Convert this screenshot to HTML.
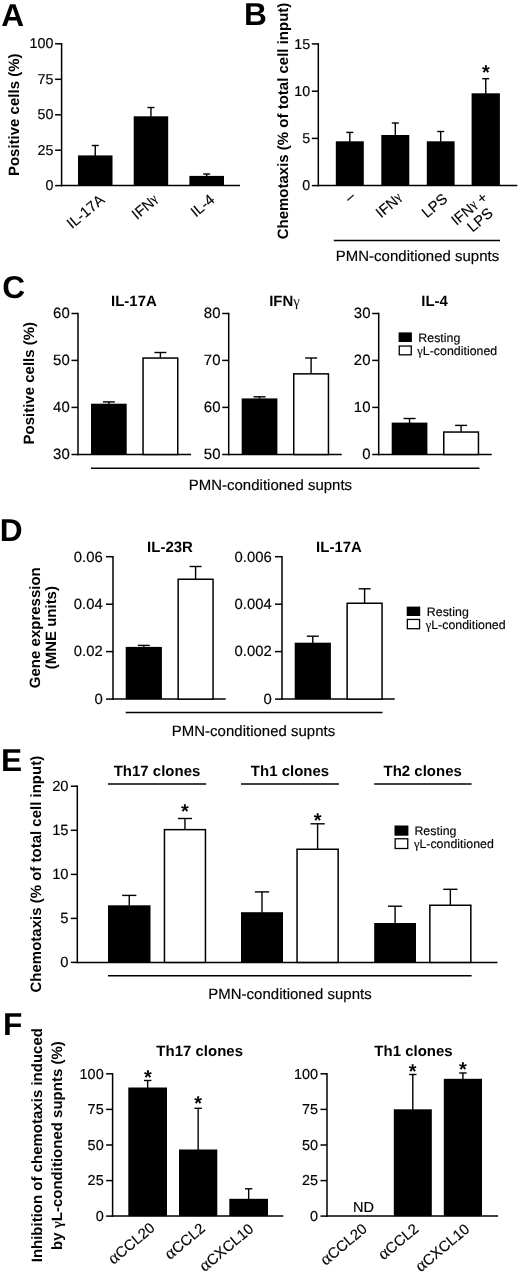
<!DOCTYPE html>
<html><head><meta charset="utf-8"><title>Figure</title>
<style>
html,body{margin:0;padding:0;background:#fff;}
svg{display:block;will-change:transform;}
svg text{text-rendering:geometricPrecision;font-family:"Liberation Sans",Arial,Helvetica,sans-serif;fill:#000;}
</style></head><body>
<svg width="520" height="1275" viewBox="0 0 520 1275">
<rect x="0" y="0" width="520" height="1275" fill="#fff"/>
<text transform="translate(1.20 25.90) scale(0.1)" font-size="318" text-anchor="start" font-weight="bold">A</text>
<text transform="translate(243.90 24.70) scale(0.1)" font-size="318" text-anchor="start" font-weight="bold">B</text>
<text transform="translate(2.30 298.20) scale(0.1)" font-size="318" text-anchor="start" font-weight="bold">C</text>
<text transform="translate(-0.20 541.00) scale(0.1)" font-size="318" text-anchor="start" font-weight="bold">D</text>
<text transform="translate(0.90 771.10) scale(0.1)" font-size="318" text-anchor="start" font-weight="bold">E</text>
<text transform="translate(2.90 1034.90) scale(0.1)" font-size="318" text-anchor="start" font-weight="bold">F</text>
<line x1="61.60" y1="43.05" x2="61.60" y2="186.35" stroke="#000" stroke-width="1.5"/>
<line x1="60.85" y1="185.60" x2="240.00" y2="185.60" stroke="#000" stroke-width="1.5"/>
<line x1="55.10" y1="43.80" x2="61.60" y2="43.80" stroke="#000" stroke-width="1.5"/>
<text transform="translate(53.40 48.45) scale(0.1)" font-size="143" text-anchor="end" stroke="#000" stroke-width="1.6">100</text>
<line x1="55.10" y1="79.30" x2="61.60" y2="79.30" stroke="#000" stroke-width="1.5"/>
<text transform="translate(53.40 83.95) scale(0.1)" font-size="143" text-anchor="end" stroke="#000" stroke-width="1.6">75</text>
<line x1="55.10" y1="114.80" x2="61.60" y2="114.80" stroke="#000" stroke-width="1.5"/>
<text transform="translate(53.40 119.45) scale(0.1)" font-size="143" text-anchor="end" stroke="#000" stroke-width="1.6">50</text>
<line x1="55.10" y1="150.20" x2="61.60" y2="150.20" stroke="#000" stroke-width="1.5"/>
<text transform="translate(53.40 154.85) scale(0.1)" font-size="143" text-anchor="end" stroke="#000" stroke-width="1.6">25</text>
<line x1="55.10" y1="185.60" x2="61.60" y2="185.60" stroke="#000" stroke-width="1.5"/>
<text transform="translate(53.40 190.25) scale(0.1)" font-size="143" text-anchor="end" stroke="#000" stroke-width="1.6">0</text>
<rect x="78.00" y="155.40" width="34.50" height="30.20" fill="#000"/>
<line x1="95.25" y1="145.50" x2="95.25" y2="155.90" stroke="#000" stroke-width="1.4"/>
<line x1="91.75" y1="145.50" x2="98.75" y2="145.50" stroke="#000" stroke-width="1.4"/>
<rect x="133.70" y="116.30" width="34.50" height="69.30" fill="#000"/>
<line x1="150.95" y1="107.50" x2="150.95" y2="116.80" stroke="#000" stroke-width="1.4"/>
<line x1="147.45" y1="107.50" x2="154.45" y2="107.50" stroke="#000" stroke-width="1.4"/>
<rect x="189.40" y="175.90" width="34.60" height="9.70" fill="#000"/>
<line x1="206.70" y1="174.00" x2="206.70" y2="176.40" stroke="#000" stroke-width="1.4"/>
<line x1="203.20" y1="174.00" x2="210.20" y2="174.00" stroke="#000" stroke-width="1.4"/>
<text transform="translate(18.80 114.80) rotate(-90) scale(0.1)" font-size="150" text-anchor="middle" font-weight="bold">Positive cells (%)</text>
<text transform="translate(105.50 201.30) rotate(-40) scale(0.1)" font-size="148" text-anchor="end" stroke="#000" stroke-width="1.6">IL-17A</text>
<text transform="translate(159.50 201.30) rotate(-40) scale(0.1)" font-size="148" text-anchor="end" stroke="#000" stroke-width="1.6">IFN<tspan dy="-22" font-size="85%" font-family="'Liberation Serif','DejaVu Serif',serif">γ</tspan></text>
<text transform="translate(215.50 201.30) rotate(-40) scale(0.1)" font-size="148" text-anchor="end" stroke="#000" stroke-width="1.6">IL-4</text>
<line x1="318.30" y1="43.15" x2="318.30" y2="186.35" stroke="#000" stroke-width="1.5"/>
<line x1="317.55" y1="185.60" x2="517.30" y2="185.60" stroke="#000" stroke-width="1.5"/>
<line x1="311.80" y1="43.90" x2="318.30" y2="43.90" stroke="#000" stroke-width="1.5"/>
<text transform="translate(310.10 48.55) scale(0.1)" font-size="143" text-anchor="end" stroke="#000" stroke-width="1.6">15</text>
<line x1="311.80" y1="91.20" x2="318.30" y2="91.20" stroke="#000" stroke-width="1.5"/>
<text transform="translate(310.10 95.85) scale(0.1)" font-size="143" text-anchor="end" stroke="#000" stroke-width="1.6">10</text>
<line x1="311.80" y1="138.40" x2="318.30" y2="138.40" stroke="#000" stroke-width="1.5"/>
<text transform="translate(310.10 143.05) scale(0.1)" font-size="143" text-anchor="end" stroke="#000" stroke-width="1.6">5</text>
<line x1="311.80" y1="185.60" x2="318.30" y2="185.60" stroke="#000" stroke-width="1.5"/>
<text transform="translate(310.10 190.25) scale(0.1)" font-size="143" text-anchor="end" stroke="#000" stroke-width="1.6">0</text>
<rect x="335.80" y="141.30" width="28.00" height="44.30" fill="#000"/>
<line x1="349.80" y1="132.40" x2="349.80" y2="141.80" stroke="#000" stroke-width="1.4"/>
<line x1="346.30" y1="132.40" x2="353.30" y2="132.40" stroke="#000" stroke-width="1.4"/>
<rect x="381.30" y="135.00" width="28.00" height="50.60" fill="#000"/>
<line x1="395.30" y1="123.00" x2="395.30" y2="135.50" stroke="#000" stroke-width="1.4"/>
<line x1="391.80" y1="123.00" x2="398.80" y2="123.00" stroke="#000" stroke-width="1.4"/>
<rect x="426.80" y="141.30" width="27.80" height="44.30" fill="#000"/>
<line x1="440.70" y1="131.50" x2="440.70" y2="141.80" stroke="#000" stroke-width="1.4"/>
<line x1="437.20" y1="131.50" x2="444.20" y2="131.50" stroke="#000" stroke-width="1.4"/>
<rect x="471.60" y="93.30" width="28.30" height="92.30" fill="#000"/>
<line x1="485.75" y1="78.70" x2="485.75" y2="93.80" stroke="#000" stroke-width="1.4"/>
<line x1="482.25" y1="78.70" x2="489.25" y2="78.70" stroke="#000" stroke-width="1.4"/>
<text transform="translate(486.00 79.04) scale(0.1)" font-size="200" text-anchor="middle" font-weight="bold">*</text>
<text transform="translate(287.50 121.00) rotate(-90) scale(0.1)" font-size="150" text-anchor="middle" font-weight="bold">Chemotaxis (% of total cell input)</text>
<text transform="translate(356.00 198.00) rotate(-40) scale(0.1)" font-size="148" text-anchor="end" stroke="#000" stroke-width="1.6">–</text>
<text transform="translate(403.50 199.50) rotate(-40) scale(0.1)" font-size="148" text-anchor="end" stroke="#000" stroke-width="1.6">IFN<tspan dy="-22" font-size="85%" font-family="'Liberation Serif','DejaVu Serif',serif">γ</tspan></text>
<text transform="translate(448.50 200.50) rotate(-40) scale(0.1)" font-size="148" text-anchor="end" stroke="#000" stroke-width="1.6">LPS</text>
<text transform="translate(488.70 199.00) rotate(-40) scale(0.1)" font-size="148" text-anchor="end" stroke="#000" stroke-width="1.6">IFN<tspan dy="-22" font-size="85%" font-family="'Liberation Serif','DejaVu Serif',serif">γ</tspan><tspan dy="22"> +</tspan></text>
<text transform="translate(494.00 214.70) rotate(-40) scale(0.1)" font-size="148" text-anchor="end" stroke="#000" stroke-width="1.6">LPS</text>
<line x1="333.80" y1="240.50" x2="500.00" y2="240.50" stroke="#000" stroke-width="1.5"/>
<text transform="translate(417.50 261.40) scale(0.1)" font-size="150" text-anchor="middle" stroke="#000" stroke-width="1.6">PMN-conditioned supnts</text>
<line x1="78.00" y1="312.75" x2="78.00" y2="455.25" stroke="#000" stroke-width="1.5"/>
<line x1="77.25" y1="454.50" x2="191.05" y2="454.50" stroke="#000" stroke-width="1.5"/>
<line x1="71.50" y1="313.50" x2="78.00" y2="313.50" stroke="#000" stroke-width="1.5"/>
<text transform="translate(69.80 318.38) scale(0.1)" font-size="150" text-anchor="end" stroke="#000" stroke-width="1.6">60</text>
<line x1="71.50" y1="360.40" x2="78.00" y2="360.40" stroke="#000" stroke-width="1.5"/>
<text transform="translate(69.80 365.27) scale(0.1)" font-size="150" text-anchor="end" stroke="#000" stroke-width="1.6">50</text>
<line x1="71.50" y1="407.40" x2="78.00" y2="407.40" stroke="#000" stroke-width="1.5"/>
<text transform="translate(69.80 412.27) scale(0.1)" font-size="150" text-anchor="end" stroke="#000" stroke-width="1.6">40</text>
<line x1="71.50" y1="454.50" x2="78.00" y2="454.50" stroke="#000" stroke-width="1.5"/>
<text transform="translate(69.80 459.38) scale(0.1)" font-size="150" text-anchor="end" stroke="#000" stroke-width="1.6">30</text>
<rect x="91.00" y="403.70" width="35.70" height="50.80" fill="#000"/>
<line x1="108.85" y1="401.90" x2="108.85" y2="404.20" stroke="#000" stroke-width="1.4"/>
<line x1="102.85" y1="401.90" x2="114.85" y2="401.90" stroke="#000" stroke-width="1.4"/>
<rect x="143.05" y="358.05" width="34.70" height="96.45" fill="#fff" stroke="#000" stroke-width="1.5"/>
<line x1="160.40" y1="352.50" x2="160.40" y2="357.80" stroke="#000" stroke-width="1.4"/>
<line x1="154.40" y1="352.50" x2="166.40" y2="352.50" stroke="#000" stroke-width="1.4"/>
<text transform="translate(133.90 305.50) scale(0.1)" font-size="150" text-anchor="middle" font-weight="bold">IL-17A</text>
<line x1="228.70" y1="312.75" x2="228.70" y2="455.25" stroke="#000" stroke-width="1.5"/>
<line x1="227.95" y1="454.50" x2="341.75" y2="454.50" stroke="#000" stroke-width="1.5"/>
<line x1="222.20" y1="313.50" x2="228.70" y2="313.50" stroke="#000" stroke-width="1.5"/>
<text transform="translate(220.50 318.38) scale(0.1)" font-size="150" text-anchor="end" stroke="#000" stroke-width="1.6">80</text>
<line x1="222.20" y1="360.40" x2="228.70" y2="360.40" stroke="#000" stroke-width="1.5"/>
<text transform="translate(220.50 365.27) scale(0.1)" font-size="150" text-anchor="end" stroke="#000" stroke-width="1.6">70</text>
<line x1="222.20" y1="407.40" x2="228.70" y2="407.40" stroke="#000" stroke-width="1.5"/>
<text transform="translate(220.50 412.27) scale(0.1)" font-size="150" text-anchor="end" stroke="#000" stroke-width="1.6">60</text>
<line x1="222.20" y1="454.50" x2="228.70" y2="454.50" stroke="#000" stroke-width="1.5"/>
<text transform="translate(220.50 459.38) scale(0.1)" font-size="150" text-anchor="end" stroke="#000" stroke-width="1.6">50</text>
<rect x="241.70" y="398.40" width="35.70" height="56.10" fill="#000"/>
<line x1="259.55" y1="396.80" x2="259.55" y2="398.90" stroke="#000" stroke-width="1.4"/>
<line x1="253.55" y1="396.80" x2="265.55" y2="396.80" stroke="#000" stroke-width="1.4"/>
<rect x="293.75" y="373.85" width="34.70" height="80.65" fill="#fff" stroke="#000" stroke-width="1.5"/>
<line x1="311.10" y1="358.00" x2="311.10" y2="373.60" stroke="#000" stroke-width="1.4"/>
<line x1="305.10" y1="358.00" x2="317.10" y2="358.00" stroke="#000" stroke-width="1.4"/>
<text transform="translate(284.60 305.50) scale(0.1)" font-size="150" text-anchor="middle" font-weight="bold">IFN<tspan font-weight="normal" font-family="'Liberation Serif','DejaVu Serif',serif">γ</tspan></text>
<line x1="378.70" y1="312.75" x2="378.70" y2="455.25" stroke="#000" stroke-width="1.5"/>
<line x1="377.95" y1="454.50" x2="491.75" y2="454.50" stroke="#000" stroke-width="1.5"/>
<line x1="372.20" y1="313.50" x2="378.70" y2="313.50" stroke="#000" stroke-width="1.5"/>
<text transform="translate(370.50 318.38) scale(0.1)" font-size="150" text-anchor="end" stroke="#000" stroke-width="1.6">30</text>
<line x1="372.20" y1="360.40" x2="378.70" y2="360.40" stroke="#000" stroke-width="1.5"/>
<text transform="translate(370.50 365.27) scale(0.1)" font-size="150" text-anchor="end" stroke="#000" stroke-width="1.6">20</text>
<line x1="372.20" y1="407.40" x2="378.70" y2="407.40" stroke="#000" stroke-width="1.5"/>
<text transform="translate(370.50 412.27) scale(0.1)" font-size="150" text-anchor="end" stroke="#000" stroke-width="1.6">10</text>
<line x1="372.20" y1="454.50" x2="378.70" y2="454.50" stroke="#000" stroke-width="1.5"/>
<text transform="translate(370.50 459.38) scale(0.1)" font-size="150" text-anchor="end" stroke="#000" stroke-width="1.6">0</text>
<rect x="391.70" y="422.60" width="35.70" height="31.90" fill="#000"/>
<line x1="409.55" y1="418.50" x2="409.55" y2="423.10" stroke="#000" stroke-width="1.4"/>
<line x1="403.55" y1="418.50" x2="415.55" y2="418.50" stroke="#000" stroke-width="1.4"/>
<rect x="443.75" y="432.05" width="34.70" height="22.45" fill="#fff" stroke="#000" stroke-width="1.5"/>
<line x1="461.10" y1="425.40" x2="461.10" y2="431.80" stroke="#000" stroke-width="1.4"/>
<line x1="455.10" y1="425.40" x2="467.10" y2="425.40" stroke="#000" stroke-width="1.4"/>
<text transform="translate(434.60 305.50) scale(0.1)" font-size="150" text-anchor="middle" font-weight="bold">IL-4</text>
<text transform="translate(34.30 383.20) rotate(-90) scale(0.1)" font-size="150" text-anchor="middle" font-weight="bold">Positive cells (%)</text>
<line x1="91.00" y1="468.20" x2="479.50" y2="468.20" stroke="#000" stroke-width="1.5"/>
<text transform="translate(270.40 490.20) scale(0.1)" font-size="150" text-anchor="middle" stroke="#000" stroke-width="1.6">PMN-conditioned supnts</text>
<rect x="398.60" y="332.40" width="13.30" height="9.60" fill="#000"/>
<rect x="399.25" y="346.05" width="12.00" height="8.75" fill="#fff" stroke="#000" stroke-width="1.3"/>
<text transform="translate(418.30 342.00) scale(0.1)" font-size="124" text-anchor="start" stroke="#000" stroke-width="1.6">Resting</text>
<text transform="translate(417.30 355.40) scale(0.1)" font-size="124" text-anchor="start" stroke="#000" stroke-width="1.6"><tspan font-family="'Liberation Serif','DejaVu Serif',serif">γ</tspan>L-conditioned</text>
<line x1="113.00" y1="555.95" x2="113.00" y2="699.85" stroke="#000" stroke-width="1.5"/>
<line x1="112.25" y1="699.10" x2="225.75" y2="699.10" stroke="#000" stroke-width="1.5"/>
<line x1="106.00" y1="556.70" x2="113.00" y2="556.70" stroke="#000" stroke-width="1.5"/>
<text transform="translate(102.80 561.54) scale(0.1)" font-size="149" text-anchor="end" stroke="#000" stroke-width="1.6">0.06</text>
<line x1="106.00" y1="604.20" x2="113.00" y2="604.20" stroke="#000" stroke-width="1.5"/>
<text transform="translate(102.80 609.04) scale(0.1)" font-size="149" text-anchor="end" stroke="#000" stroke-width="1.6">0.04</text>
<line x1="106.00" y1="651.60" x2="113.00" y2="651.60" stroke="#000" stroke-width="1.5"/>
<text transform="translate(102.80 656.44) scale(0.1)" font-size="149" text-anchor="end" stroke="#000" stroke-width="1.6">0.02</text>
<line x1="106.00" y1="699.10" x2="113.00" y2="699.10" stroke="#000" stroke-width="1.5"/>
<text transform="translate(102.80 703.94) scale(0.1)" font-size="149" text-anchor="end" stroke="#000" stroke-width="1.6">0</text>
<rect x="125.70" y="646.90" width="36.20" height="52.20" fill="#000"/>
<line x1="143.80" y1="645.40" x2="143.80" y2="647.40" stroke="#000" stroke-width="1.4"/>
<line x1="137.80" y1="645.40" x2="149.80" y2="645.40" stroke="#000" stroke-width="1.4"/>
<rect x="178.15" y="579.25" width="34.90" height="119.85" fill="#fff" stroke="#000" stroke-width="1.5"/>
<line x1="195.60" y1="566.50" x2="195.60" y2="579.00" stroke="#000" stroke-width="1.4"/>
<line x1="189.60" y1="566.50" x2="201.60" y2="566.50" stroke="#000" stroke-width="1.4"/>
<text transform="translate(170.00 552.30) scale(0.1)" font-size="150" text-anchor="middle" font-weight="bold">IL-23R</text>
<line x1="282.00" y1="555.95" x2="282.00" y2="699.85" stroke="#000" stroke-width="1.5"/>
<line x1="281.25" y1="699.10" x2="394.75" y2="699.10" stroke="#000" stroke-width="1.5"/>
<line x1="275.00" y1="556.70" x2="282.00" y2="556.70" stroke="#000" stroke-width="1.5"/>
<text transform="translate(271.80 561.54) scale(0.1)" font-size="149" text-anchor="end" stroke="#000" stroke-width="1.6">0.006</text>
<line x1="275.00" y1="604.20" x2="282.00" y2="604.20" stroke="#000" stroke-width="1.5"/>
<text transform="translate(271.80 609.04) scale(0.1)" font-size="149" text-anchor="end" stroke="#000" stroke-width="1.6">0.004</text>
<line x1="275.00" y1="651.60" x2="282.00" y2="651.60" stroke="#000" stroke-width="1.5"/>
<text transform="translate(271.80 656.44) scale(0.1)" font-size="149" text-anchor="end" stroke="#000" stroke-width="1.6">0.002</text>
<line x1="275.00" y1="699.10" x2="282.00" y2="699.10" stroke="#000" stroke-width="1.5"/>
<text transform="translate(271.80 703.94) scale(0.1)" font-size="149" text-anchor="end" stroke="#000" stroke-width="1.6">0</text>
<rect x="294.70" y="642.70" width="36.20" height="56.40" fill="#000"/>
<line x1="312.80" y1="636.20" x2="312.80" y2="643.20" stroke="#000" stroke-width="1.4"/>
<line x1="306.80" y1="636.20" x2="318.80" y2="636.20" stroke="#000" stroke-width="1.4"/>
<rect x="347.15" y="603.25" width="34.90" height="95.85" fill="#fff" stroke="#000" stroke-width="1.5"/>
<line x1="364.60" y1="588.80" x2="364.60" y2="603.00" stroke="#000" stroke-width="1.4"/>
<line x1="358.60" y1="588.80" x2="370.60" y2="588.80" stroke="#000" stroke-width="1.4"/>
<text transform="translate(339.00 552.30) scale(0.1)" font-size="150" text-anchor="middle" font-weight="bold">IL-17A</text>
<text transform="translate(39.50 627.70) rotate(-90) scale(0.1)" font-size="150" text-anchor="middle" font-weight="bold">Gene expression</text>
<text transform="translate(56.20 627.70) rotate(-90) scale(0.1)" font-size="150" text-anchor="middle" font-weight="bold">(MNE units)</text>
<line x1="125.70" y1="712.50" x2="382.50" y2="712.50" stroke="#000" stroke-width="1.5"/>
<text transform="translate(253.50 735.80) scale(0.1)" font-size="150" text-anchor="middle" stroke="#000" stroke-width="1.6">PMN-conditioned supnts</text>
<rect x="406.70" y="606.60" width="13.50" height="9.40" fill="#000"/>
<rect x="407.35" y="619.45" width="12.20" height="9.25" fill="#fff" stroke="#000" stroke-width="1.3"/>
<text transform="translate(426.80 615.80) scale(0.1)" font-size="124" text-anchor="start" stroke="#000" stroke-width="1.6">Resting</text>
<text transform="translate(425.70 628.60) scale(0.1)" font-size="124" text-anchor="start" stroke="#000" stroke-width="1.6"><tspan font-family="'Liberation Serif','DejaVu Serif',serif">γ</tspan>L-conditioned</text>
<line x1="77.30" y1="785.45" x2="77.30" y2="963.15" stroke="#000" stroke-width="1.5"/>
<line x1="76.55" y1="962.40" x2="497.50" y2="962.40" stroke="#000" stroke-width="1.5"/>
<line x1="70.80" y1="786.20" x2="77.30" y2="786.20" stroke="#000" stroke-width="1.5"/>
<text transform="translate(68.60 791.01) scale(0.1)" font-size="148" text-anchor="end" stroke="#000" stroke-width="1.6">20</text>
<line x1="70.80" y1="830.30" x2="77.30" y2="830.30" stroke="#000" stroke-width="1.5"/>
<text transform="translate(68.60 835.11) scale(0.1)" font-size="148" text-anchor="end" stroke="#000" stroke-width="1.6">15</text>
<line x1="70.80" y1="874.40" x2="77.30" y2="874.40" stroke="#000" stroke-width="1.5"/>
<text transform="translate(68.60 879.21) scale(0.1)" font-size="148" text-anchor="end" stroke="#000" stroke-width="1.6">10</text>
<line x1="70.80" y1="918.40" x2="77.30" y2="918.40" stroke="#000" stroke-width="1.5"/>
<text transform="translate(68.60 923.21) scale(0.1)" font-size="148" text-anchor="end" stroke="#000" stroke-width="1.6">5</text>
<line x1="70.80" y1="962.40" x2="77.30" y2="962.40" stroke="#000" stroke-width="1.5"/>
<text transform="translate(68.60 967.21) scale(0.1)" font-size="148" text-anchor="end" stroke="#000" stroke-width="1.6">0</text>
<rect x="108.00" y="905.30" width="42.50" height="57.10" fill="#000"/>
<line x1="129.25" y1="895.40" x2="129.25" y2="905.80" stroke="#000" stroke-width="1.4"/>
<line x1="122.15" y1="895.40" x2="136.35" y2="895.40" stroke="#000" stroke-width="1.4"/>
<rect x="164.45" y="829.65" width="41.00" height="132.75" fill="#fff" stroke="#000" stroke-width="1.5"/>
<line x1="184.95" y1="818.50" x2="184.95" y2="829.40" stroke="#000" stroke-width="1.4"/>
<line x1="177.85" y1="818.50" x2="192.05" y2="818.50" stroke="#000" stroke-width="1.4"/>
<rect x="241.00" y="912.20" width="42.00" height="50.20" fill="#000"/>
<line x1="262.00" y1="891.90" x2="262.00" y2="912.70" stroke="#000" stroke-width="1.4"/>
<line x1="254.90" y1="891.90" x2="269.10" y2="891.90" stroke="#000" stroke-width="1.4"/>
<rect x="297.05" y="849.25" width="41.10" height="113.15" fill="#fff" stroke="#000" stroke-width="1.5"/>
<line x1="317.60" y1="823.80" x2="317.60" y2="849.00" stroke="#000" stroke-width="1.4"/>
<line x1="310.50" y1="823.80" x2="324.70" y2="823.80" stroke="#000" stroke-width="1.4"/>
<rect x="374.20" y="923.00" width="41.80" height="39.40" fill="#000"/>
<line x1="395.10" y1="906.20" x2="395.10" y2="923.50" stroke="#000" stroke-width="1.4"/>
<line x1="388.00" y1="906.20" x2="402.20" y2="906.20" stroke="#000" stroke-width="1.4"/>
<rect x="429.85" y="905.25" width="41.00" height="57.15" fill="#fff" stroke="#000" stroke-width="1.5"/>
<line x1="450.35" y1="889.30" x2="450.35" y2="905.00" stroke="#000" stroke-width="1.4"/>
<line x1="443.25" y1="889.30" x2="457.45" y2="889.30" stroke="#000" stroke-width="1.4"/>
<text transform="translate(184.90 818.44) scale(0.1)" font-size="200" text-anchor="middle" font-weight="bold">*</text>
<text transform="translate(317.60 826.94) scale(0.1)" font-size="200" text-anchor="middle" font-weight="bold">*</text>
<line x1="108.00" y1="784.00" x2="206.20" y2="784.00" stroke="#000" stroke-width="1.5"/>
<line x1="241.00" y1="784.00" x2="338.90" y2="784.00" stroke="#000" stroke-width="1.5"/>
<line x1="374.20" y1="784.00" x2="471.60" y2="784.00" stroke="#000" stroke-width="1.5"/>
<text transform="translate(157.00 775.50) scale(0.1)" font-size="150" text-anchor="middle" font-weight="bold">Th17 clones</text>
<text transform="translate(290.00 775.50) scale(0.1)" font-size="150" text-anchor="middle" font-weight="bold">Th1 clones</text>
<text transform="translate(422.70 775.50) scale(0.1)" font-size="150" text-anchor="middle" font-weight="bold">Th2 clones</text>
<text transform="translate(40.50 874.20) rotate(-90) scale(0.1)" font-size="150" text-anchor="middle" font-weight="bold">Chemotaxis (% of total cell input)</text>
<line x1="108.00" y1="975.80" x2="471.60" y2="975.80" stroke="#000" stroke-width="1.5"/>
<text transform="translate(290.00 998.50) scale(0.1)" font-size="150" text-anchor="middle" stroke="#000" stroke-width="1.6">PMN-conditioned supnts</text>
<rect x="394.50" y="825.50" width="13.90" height="10.20" fill="#000"/>
<rect x="395.15" y="838.75" width="12.60" height="9.75" fill="#fff" stroke="#000" stroke-width="1.3"/>
<text transform="translate(414.40 834.90) scale(0.1)" font-size="124" text-anchor="start" stroke="#000" stroke-width="1.6">Resting</text>
<text transform="translate(413.90 847.80) scale(0.1)" font-size="124" text-anchor="start" stroke="#000" stroke-width="1.6"><tspan font-family="'Liberation Serif','DejaVu Serif',serif">γ</tspan>L-conditioned</text>
<line x1="112.60" y1="1073.05" x2="112.60" y2="1216.85" stroke="#000" stroke-width="1.5"/>
<line x1="111.85" y1="1216.10" x2="283.30" y2="1216.10" stroke="#000" stroke-width="1.5"/>
<line x1="106.10" y1="1073.80" x2="112.60" y2="1073.80" stroke="#000" stroke-width="1.5"/>
<text transform="translate(103.70 1078.51) scale(0.1)" font-size="145" text-anchor="end" stroke="#000" stroke-width="1.6">100</text>
<line x1="106.10" y1="1109.40" x2="112.60" y2="1109.40" stroke="#000" stroke-width="1.5"/>
<text transform="translate(103.70 1114.11) scale(0.1)" font-size="145" text-anchor="end" stroke="#000" stroke-width="1.6">75</text>
<line x1="106.10" y1="1145.00" x2="112.60" y2="1145.00" stroke="#000" stroke-width="1.5"/>
<text transform="translate(103.70 1149.71) scale(0.1)" font-size="145" text-anchor="end" stroke="#000" stroke-width="1.6">50</text>
<line x1="106.10" y1="1180.60" x2="112.60" y2="1180.60" stroke="#000" stroke-width="1.5"/>
<text transform="translate(103.70 1185.31) scale(0.1)" font-size="145" text-anchor="end" stroke="#000" stroke-width="1.6">25</text>
<line x1="106.10" y1="1216.10" x2="112.60" y2="1216.10" stroke="#000" stroke-width="1.5"/>
<text transform="translate(103.70 1220.81) scale(0.1)" font-size="145" text-anchor="end" stroke="#000" stroke-width="1.6">0</text>
<rect x="128.30" y="1087.50" width="38.70" height="128.60" fill="#000"/>
<line x1="147.65" y1="1080.50" x2="147.65" y2="1088.00" stroke="#000" stroke-width="1.4"/>
<line x1="143.95" y1="1080.50" x2="151.35" y2="1080.50" stroke="#000" stroke-width="1.4"/>
<rect x="179.00" y="1149.50" width="38.30" height="66.60" fill="#000"/>
<line x1="198.15" y1="1108.30" x2="198.15" y2="1150.00" stroke="#000" stroke-width="1.4"/>
<line x1="194.45" y1="1108.30" x2="201.85" y2="1108.30" stroke="#000" stroke-width="1.4"/>
<rect x="229.30" y="1198.80" width="38.70" height="17.30" fill="#000"/>
<line x1="248.65" y1="1188.80" x2="248.65" y2="1199.30" stroke="#000" stroke-width="1.4"/>
<line x1="244.95" y1="1188.80" x2="252.35" y2="1188.80" stroke="#000" stroke-width="1.4"/>
<text transform="translate(148.00 1083.74) scale(0.1)" font-size="200" text-anchor="middle" font-weight="bold">*</text>
<text transform="translate(198.20 1110.34) scale(0.1)" font-size="200" text-anchor="middle" font-weight="bold">*</text>
<text transform="translate(199.70 1056.30) scale(0.1)" font-size="150" text-anchor="middle" font-weight="bold">Th17 clones</text>
<line x1="327.00" y1="1073.05" x2="327.00" y2="1216.85" stroke="#000" stroke-width="1.5"/>
<line x1="326.25" y1="1216.10" x2="498.00" y2="1216.10" stroke="#000" stroke-width="1.5"/>
<line x1="320.50" y1="1073.80" x2="327.00" y2="1073.80" stroke="#000" stroke-width="1.5"/>
<text transform="translate(318.10 1078.51) scale(0.1)" font-size="145" text-anchor="end" stroke="#000" stroke-width="1.6">100</text>
<line x1="320.50" y1="1109.40" x2="327.00" y2="1109.40" stroke="#000" stroke-width="1.5"/>
<text transform="translate(318.10 1114.11) scale(0.1)" font-size="145" text-anchor="end" stroke="#000" stroke-width="1.6">75</text>
<line x1="320.50" y1="1145.00" x2="327.00" y2="1145.00" stroke="#000" stroke-width="1.5"/>
<text transform="translate(318.10 1149.71) scale(0.1)" font-size="145" text-anchor="end" stroke="#000" stroke-width="1.6">50</text>
<line x1="320.50" y1="1180.60" x2="327.00" y2="1180.60" stroke="#000" stroke-width="1.5"/>
<text transform="translate(318.10 1185.31) scale(0.1)" font-size="145" text-anchor="end" stroke="#000" stroke-width="1.6">25</text>
<line x1="320.50" y1="1216.10" x2="327.00" y2="1216.10" stroke="#000" stroke-width="1.5"/>
<text transform="translate(318.10 1220.81) scale(0.1)" font-size="145" text-anchor="end" stroke="#000" stroke-width="1.6">0</text>
<rect x="393.80" y="1109.30" width="38.00" height="106.80" fill="#000"/>
<line x1="412.80" y1="1074.50" x2="412.80" y2="1109.80" stroke="#000" stroke-width="1.4"/>
<line x1="409.10" y1="1074.50" x2="416.50" y2="1074.50" stroke="#000" stroke-width="1.4"/>
<rect x="443.80" y="1078.80" width="38.20" height="137.30" fill="#000"/>
<line x1="462.90" y1="1073.00" x2="462.90" y2="1079.30" stroke="#000" stroke-width="1.4"/>
<line x1="459.20" y1="1073.00" x2="466.60" y2="1073.00" stroke="#000" stroke-width="1.4"/>
<text transform="translate(412.60 1078.04) scale(0.1)" font-size="200" text-anchor="middle" font-weight="bold">*</text>
<text transform="translate(463.00 1076.34) scale(0.1)" font-size="200" text-anchor="middle" font-weight="bold">*</text>
<text transform="translate(363.50 1211.70) scale(0.1)" font-size="146" text-anchor="middle" stroke="#000" stroke-width="1.6">ND</text>
<text transform="translate(413.50 1056.20) scale(0.1)" font-size="150" text-anchor="middle" font-weight="bold">Th1 clones</text>
<text transform="translate(42.20 1145.20) rotate(-90) scale(0.1)" font-size="150" text-anchor="middle" font-weight="bold">Inhibition of chemotaxis induced</text>
<text transform="translate(61.80 1145.60) rotate(-90) scale(0.1)" font-size="150" text-anchor="middle" font-weight="bold">by <tspan font-family="'Liberation Serif','DejaVu Serif',serif">γ</tspan>L-conditioned supnts (%)</text>
<text transform="translate(155.80 1229.40) rotate(-40) scale(0.1)" font-size="148" text-anchor="end" stroke="#000" stroke-width="1.6"><tspan font-size="118%" font-family="'Liberation Serif','DejaVu Serif',serif">α</tspan>CCL20</text>
<text transform="translate(206.00 1230.00) rotate(-40) scale(0.1)" font-size="148" text-anchor="end" stroke="#000" stroke-width="1.6"><tspan font-size="118%" font-family="'Liberation Serif','DejaVu Serif',serif">α</tspan>CCL2</text>
<text transform="translate(254.50 1230.50) rotate(-40) scale(0.1)" font-size="148" text-anchor="end" stroke="#000" stroke-width="1.6"><tspan font-size="118%" font-family="'Liberation Serif','DejaVu Serif',serif">α</tspan>CXCL10</text>
<text transform="translate(368.00 1230.40) rotate(-40) scale(0.1)" font-size="148" text-anchor="end" stroke="#000" stroke-width="1.6"><tspan font-size="118%" font-family="'Liberation Serif','DejaVu Serif',serif">α</tspan>CCL20</text>
<text transform="translate(419.50 1230.40) rotate(-40) scale(0.1)" font-size="148" text-anchor="end" stroke="#000" stroke-width="1.6"><tspan font-size="118%" font-family="'Liberation Serif','DejaVu Serif',serif">α</tspan>CCL2</text>
<text transform="translate(470.50 1230.70) rotate(-40) scale(0.1)" font-size="148" text-anchor="end" stroke="#000" stroke-width="1.6"><tspan font-size="118%" font-family="'Liberation Serif','DejaVu Serif',serif">α</tspan>CXCL10</text>
</svg>
</body></html>
